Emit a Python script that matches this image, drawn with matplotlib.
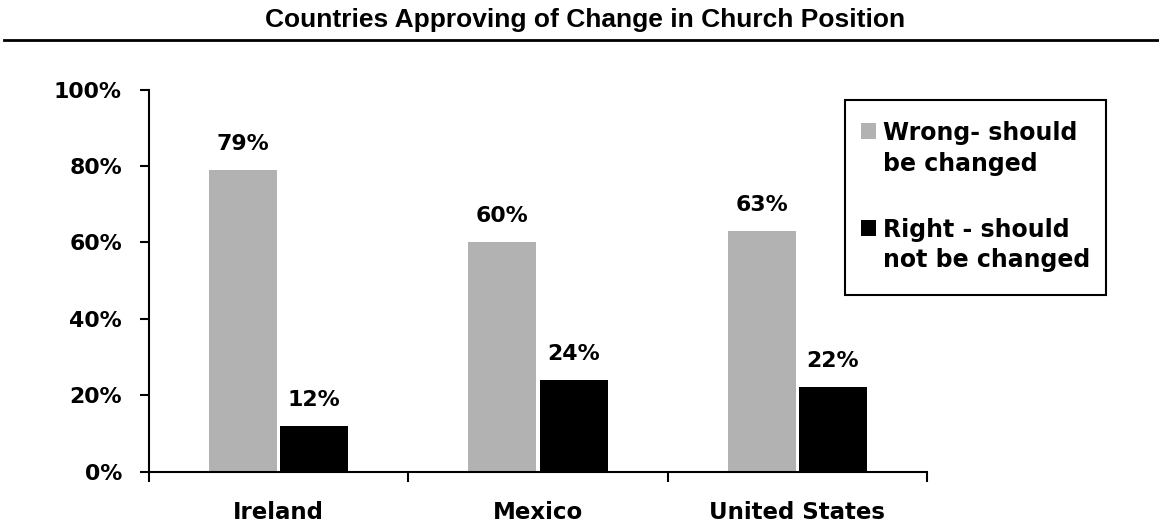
import matplotlib.pyplot as plt
import numpy as np
from matplotlib.patches import Rectangle
from matplotlib.lines import Line2D
from matplotlib.ticker import FuncFormatter, FixedLocator

# ---------------------------------------------------------
# Data
# ---------------------------------------------------------
countries = ['Ireland', 'Mexico', 'United States']
wrong_change = [79, 60, 63]
right_keep = [12, 24, 22]
series_names = [['Wrong- should', 'be changed'], ['Right - should', 'not be changed']]
series_colors = ['#b2b2b2', '#000000']
title = 'Countries Approving of Change in Church Position'

W, H = 1159, 524


def fx(x):
    return x / W


def fy(y):
    return 1 - y / H


fig = plt.figure(figsize=(W / 100, H / 100), dpi=100)
ax = fig.add_axes([fx(149), fy(471.5), fx(927) - fx(149), fy(89.5) - fy(471.5)])

lab_font = 'DejaVu Sans'
x = np.arange(len(countries))
width = 0.262
offset = 0.137

bars_w = ax.bar(x - offset, wrong_change, width, color=series_colors[0], zorder=2)
bars_r = ax.bar(x + offset, right_keep, width, color=series_colors[1], zorder=2)

for bars in (bars_w, bars_r):
    for b in bars:
        ax.annotate(f'{b.get_height():.0f}%', (b.get_x() + b.get_width() / 2, b.get_height()),
                    xytext=(0, 14.4), textcoords='offset points', ha='center', va='baseline',
                    fontsize=15.8, fontweight='bold', family=lab_font)

# ---------------------------------------------------------
# Axes styling
# ---------------------------------------------------------
ax.set_xlim(-0.5, len(countries) - 0.5)
ax.set_ylim(0, 100)
ax.set_yticks(np.arange(0, 101, 20))
ax.yaxis.set_major_formatter(FuncFormatter(lambda v, p: f'{v:.0f}%'))
ax.tick_params(axis='y', length=6.5, width=1.5, pad=13, direction='out')
for lbl in ax.get_yticklabels():
    lbl.set_fontsize(15.8)
    lbl.set_fontweight('bold')
    lbl.set_family(lab_font)

ax.set_xticks(x)
ax.set_xticklabels(countries, fontsize=16.5, fontweight='bold', family=lab_font)
ax.tick_params(axis='x', which='major', length=0, pad=21)
ax.xaxis.set_minor_locator(FixedLocator(np.arange(-0.5, len(countries), 1.0)))
ax.tick_params(axis='x', which='minor', length=7.5, width=1.5, direction='out')

for side in ('top', 'right'):
    ax.spines[side].set_visible(False)
for side in ('left', 'bottom'):
    ax.spines[side].set_linewidth(1.5)

# ---------------------------------------------------------
# Title and rule
# ---------------------------------------------------------
fig.text(fx(585), fy(20), title, ha='center', va='center', fontsize=19,
         fontweight='bold', family='Liberation Sans')
fig.add_artist(Line2D([fx(4), fx(1159)], [fy(39.5), fy(39.5)], color='black', lw=2,
                      transform=fig.transFigure))

# ---------------------------------------------------------
# Legend box
# ---------------------------------------------------------
fig.add_artist(Rectangle((fx(845), fy(295)), fx(1106) - fx(845), fy(100) - fy(295),
                         transform=fig.transFigure, facecolor='white', edgecolor='black',
                         lw=1.5, zorder=5))
baselines = [(140, 171), (237, 267)]
for name, color, (b1, b2) in zip(series_names, series_colors, baselines):
    fig.add_artist(Rectangle((fx(861), fy(b1 - 1)), fx(15), fy(0) - fy(16),
                             transform=fig.transFigure, facecolor=color,
                             edgecolor='none', zorder=6))
    for line, b in zip(name, (b1, b2)):
        fig.text(fx(883), fy(b), line, ha='left', va='baseline', fontsize=17,
                 fontweight='bold', family=lab_font, zorder=6)

fig.savefig('out.png', dpi=100)
